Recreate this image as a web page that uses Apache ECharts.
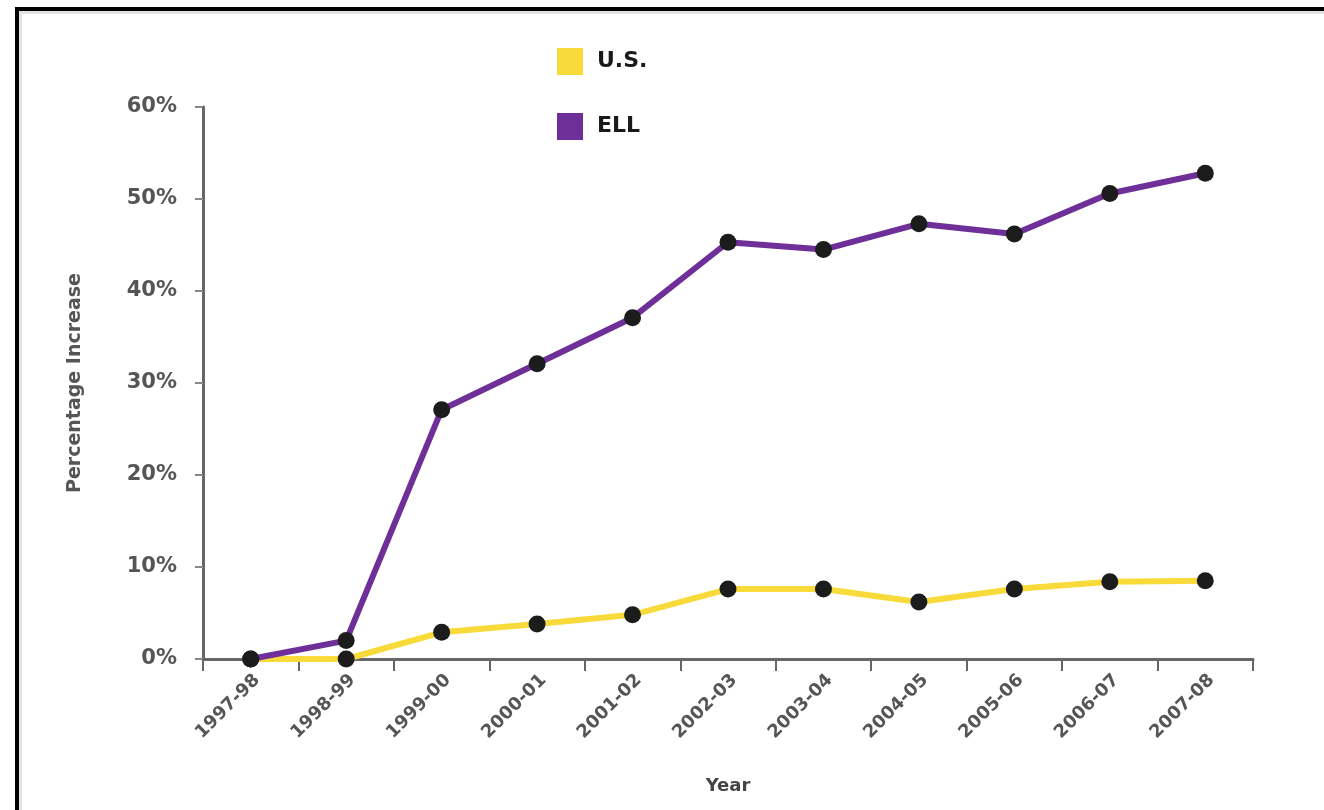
<!DOCTYPE html>
<html>
<head>
<meta charset="utf-8">
<script src="https://cdn.jsdelivr.net/npm/echarts@6/dist/echarts.min.js"></script>
<style>
  html, body { margin: 0; padding: 0; background: #fff; }
  #wrap { position: relative; width: 1324px; height: 810px; overflow: hidden; }
  #chart { position: absolute; left: 0; top: 0; width: 1324px; height: 810px; }
  #frame {
    position: absolute; left: 15px; top: 7px; width: 1400px; height: 900px;
    border-left: 4px solid #000; border-top: 4px solid #000;
    box-shadow: inset 3px 3px 0 #e2e2e2; pointer-events: none;
  }
</style>
</head>
<body>
<div id="wrap">
  <div id="chart"></div>
  <div id="frame"></div>
</div>
<script>
// School years on the horizontal axis
const years = ['1997-98', '1998-99', '1999-00', '2000-01', '2001-02', '2002-03',
               '2003-04', '2004-05', '2005-06', '2006-07', '2007-08'];
// Cumulative percentage increase since 1997-98
const usIncrease  = [0, 0, 2.9, 3.8, 4.8, 7.6, 7.6, 6.2, 7.6, 8.4, 8.5];
const ellIncrease = [0, 2.0, 27.1, 32.1, 37.1, 45.3, 44.5, 47.3, 46.2, 50.6, 52.8];
const yTicks = [0, 10, 20, 30, 40, 50, 60];

const US_COLOR = '#F8DB3A';
const ELL_COLOR = '#6E2F98';
const AXIS_GRAY = '#666666';
const FONT = 'DejaVu Sans';

const chart = echarts.init(document.getElementById('chart'), null, { renderer: 'canvas' });

chart.setOption({
  animation: false,
  backgroundColor: '#ffffff',
  grid: { left: 203, right: 71, top: 107, bottom: 151, containLabel: false },
  legend: {
    orient: 'vertical',
    left: 557,
    top: 48,
    padding: 0,
    itemWidth: 26,
    itemHeight: 27,
    itemGap: 38,
    icon: 'rect',
    formatter: name => '{t|' + name + '}',
    textStyle: {
      rich: { t: { fontFamily: FONT, fontSize: 22, fontWeight: 'bold', color: '#1a1a1a', padding: [0, 0, 0, 9] } }
    },
    data: [
      { name: 'U.S.', itemStyle: { color: US_COLOR } },
      { name: 'ELL', itemStyle: { color: ELL_COLOR } }
    ]
  },
  xAxis: {
    type: 'category',
    data: years,
    boundaryGap: true,
    name: 'Year',
    nameLocation: 'middle',
    nameGap: 118,
    nameTextStyle: { fontFamily: FONT, fontSize: 18, fontWeight: 'bold', color: '#444' },
    axisLine: { lineStyle: { color: AXIS_GRAY, width: 3 } },
    axisTick: { show: true, length: 12, lineStyle: { color: AXIS_GRAY, width: 2 } },
    axisLabel: {
      rotate: 45, margin: 12, interval: 0, verticalAlign: 'top',
      fontFamily: FONT, fontSize: 18, fontWeight: 'bold', color: '#555'
    }
  },
  yAxis: {
    type: 'value',
    min: yTicks[0],
    max: yTicks[yTicks.length - 1],
    interval: 10,
    name: 'Percentage Increase',
    nameLocation: 'middle',
    nameGap: 118,
    nameRotate: 90,
    nameTextStyle: { fontFamily: FONT, fontSize: 19, fontWeight: 'bold', color: '#555' },
    axisLine: { show: true, lineStyle: { color: AXIS_GRAY, width: 3 } },
    axisTick: { show: true, length: 8, lineStyle: { color: '#888', width: 2 } },
    splitLine: { show: false },
    axisLabel: {
      margin: 26, fontFamily: FONT, fontSize: 21, fontWeight: 'bold', color: '#555',
      formatter: '{value}%'
    }
  },
  series: [
    {
      name: 'U.S.',
      type: 'line',
      data: usIncrease,
      symbol: 'circle',
      symbolSize: 17,
      lineStyle: { color: US_COLOR, width: 6 },
      itemStyle: { color: '#1c1c1c' },
      z: 2
    },
    {
      name: 'ELL',
      type: 'line',
      data: ellIncrease,
      symbol: 'circle',
      symbolSize: 17,
      lineStyle: { color: ELL_COLOR, width: 6 },
      itemStyle: { color: '#1c1c1c' },
      z: 3
    }
  ]
});
</script>
</body>
</html>
